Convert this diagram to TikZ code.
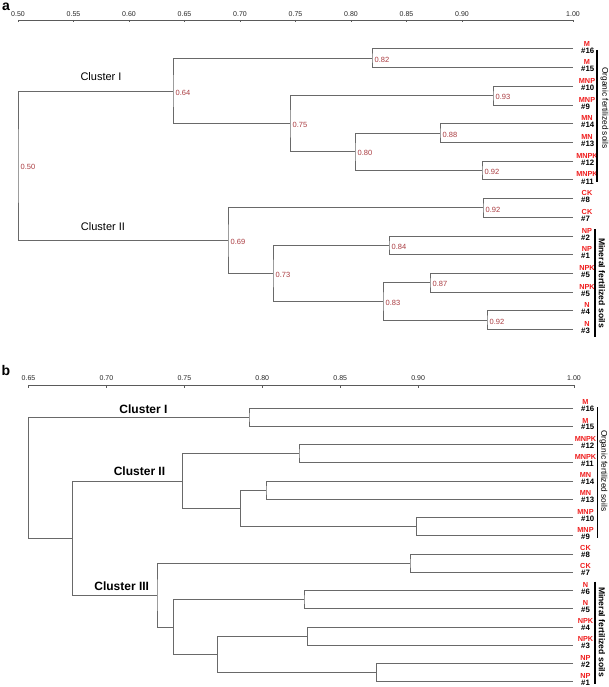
\documentclass[tikz,border=0pt]{standalone}
\usepackage{fontspec}
\setmainfont{Liberation Sans}
\usetikzlibrary{calc}
\definecolor{treegray}{RGB}{105,105,105}
\definecolor{valred}{RGB}{170,60,65}
\definecolor{leafred}{RGB}{240,30,30}
\definecolor{axgray}{RGB}{90,90,90}
\begin{document}
\begin{tikzpicture}[x=1pt,y=-1pt,
  br/.style={draw=treegray,line width=1pt},
  axisline/.style={draw=axgray,line width=0.8pt},
  vallab/.style={anchor=west,inner sep=0pt,font=\fontsize{7.5}{8}\selectfont,text=valred},
  redlab/.style={inner sep=0pt,font=\bfseries\fontsize{7.3}{7.3}\selectfont,text=leafred},
  blklab/.style={anchor=west,inner sep=0pt,font=\bfseries\fontsize{7.8}{7.8}\selectfont},
  ticklab/.style={inner sep=0pt,font=\fontsize{7}{7}\selectfont,text=black!85},
  clusa/.style={inner sep=0pt,font=\fontsize{11}{11}\selectfont},
  clusb/.style={inner sep=0pt,font=\bfseries\fontsize{12}{12}\selectfont},
  grpreg/.style={inner sep=0pt,rotate=-90,font=\fontsize{8.3}{8.3}\selectfont},
  grpbold/.style={inner sep=0pt,rotate=-90,font=\bfseries\fontsize{8.6}{8.6}\selectfont},
  grpbar/.style={draw=black,line width=1.1pt},
  panlab/.style={inner sep=0pt,font=\bfseries\fontsize{14}{14}\selectfont}
]
\fill[white] (0,0) rectangle (609,687);
\useasboundingbox (0,0) rectangle (609,687);

% ---------------- panel a ----------------
\node[panlab] (pa) at (6,7) {a};
\coordinate (axa0) at (18,20);
\coordinate (axa1) at (573,20);
\draw[axisline] (axa0) -- (axa1);
\foreach \v [count=\k] in {0.50,0.55,0.60,0.65,0.70,0.75,0.80,0.85,0.90,1.00}{
  \pgfmathsetmacro\xx{18+(\v-0.5)*1110}
  \draw[axisline] (\xx,20) -- (\xx,22.5);
  \node[ticklab] (ta\k) at (\xx,14) {\v};
}

\foreach \i/\r/\b in {0/M/16,1/M/15,2/MNP/10,3/MNP/9,4/MN/14,5/MN/13,6/MNPK/12,7/MNPK/11,8/CK/8,9/CK/7,10/NP/2,11/NP/1,12/NPK/5,13/NPK/5,14/N/4,15/N/3}{
  \coordinate (a\i) at (573,{49+18.7*\i});
  \node[redlab] (ar\i) at (587,{49+18.7*\i-5.5}) {\r};
  \node[blklab] (ab\i) at (581,{49+18.7*\i+1.5}) {\#\b};
}

\coordinate (n082) at (372,58.35);
\coordinate (n093) at (493,95.75);
\coordinate (n088) at (440,133.15);
\coordinate (n092a) at (482,170.55);
\coordinate (n080) at (355,151.85);
\coordinate (n075) at (290,123.8);
\coordinate (n064) at (173,91.08);
\coordinate (n092b) at (483,207.95);
\coordinate (n084) at (389,245.35);
\coordinate (n087) at (430,282.75);
\coordinate (n092c) at (487,320.15);
\coordinate (n083) at (383,301.45);
\coordinate (n073) at (273,273.4);
\coordinate (n069) at (228,240.7);
\coordinate (n050) at (18,165.9);

\draw[br] (a0) -| (n082) |- (a1);
\draw[br] (a2) -| (n093) |- (a3);
\draw[br] (a4) -| (n088) |- (a5);
\draw[br] (a6) -| (n092a) |- (a7);
\draw[br] (n088) -| (n080) |- (n092a);
\draw[br] (n093) -| (n075) |- (n080);
\draw[br] (n082) -| (n064) |- (n075);
\draw[br] (a8) -| (n092b) |- (a9);
\draw[br] (a10) -| (n084) |- (a11);
\draw[br] (a12) -| (n087) |- (a13);
\draw[br] (a14) -| (n092c) |- (a15);
\draw[br] (n087) -| (n083) |- (n092c);
\draw[br] (n084) -| (n073) |- (n083);
\draw[br] (n092b) -| (n069) |- (n073);
\draw[br] (n064) -| (n050) |- (n069);

\foreach \n/\t in {n082/0.82,n093/0.93,n088/0.88,n092a/0.92,n080/0.80,n075/0.75,n064/0.64,n092b/0.92,n084/0.84,n087/0.87,n092c/0.92,n083/0.83,n073/0.73,n069/0.69,n050/0.50}{
  \node[vallab] (v\n) at ($(\n)+(2.5,1.5)$) {\t};
}

\node[clusa] (cIa) at (101,76.7) {Cluster I};
\node[clusa] (cIIa) at (103,226.7) {Cluster II};

\coordinate (oga0) at (597,50);
\coordinate (oga1) at (597,182);
\draw[grpbar] (oga0) -- (oga1);
\node[grpreg] (ogat) at (604.5,108) {Organic fertilized soils};
\coordinate (mia0) at (595,229);
\coordinate (mia1) at (595,337);
\draw[grpbar] (mia0) -- (mia1);
\node[grpbold] (miat) at (602,283) {Mineral fertilized soils};

% ---------------- panel b ----------------
\node[panlab] (pb) at (6,370) {b};
\coordinate (axb0) at (28.5,385);
\coordinate (axb1) at (574,385);
\draw[axisline] (axb0) -- (axb1);
\foreach \v [count=\k] in {0.65,0.70,0.75,0.80,0.85,0.90,1.00}{
  \pgfmathsetmacro\xx{28.5+(\v-0.65)*1558.6}
  \draw[axisline] (\xx,385) -- (\xx,387.5);
  \node[ticklab] (tb\k) at (\xx,378.5) {\v};
}

\foreach \i/\r/\b in {0/M/16,1/M/15,2/MNPK/12,3/MNPK/11,4/MN/14,5/MN/13,6/MNP/10,7/MNP/9,8/CK/8,9/CK/7,10/N/6,11/N/5,12/NPK/4,13/NPK/3,14/NP/2,15/NP/1}{
  \coordinate (b\i) at (573,{408.3+18.23*\i});
  \node[redlab] (br\i) at (585.5,{408.3+18.23*\i-6}) {\r};
  \node[blklab] (bb\i) at (581,{408.3+18.23*\i+0.8}) {\#\b};
}

\coordinate (bnI) at (249,417.4);
\coordinate (bn1211) at (299,453.9);
\coordinate (bn1413) at (266,490.3);
\coordinate (bn109) at (416.7,526.8);
\coordinate (bnA) at (240.3,508.55);
\coordinate (bnII) at (182.3,481.2);
\coordinate (bn87) at (410,563.25);
\coordinate (bn65) at (304,599.7);
\coordinate (bn43) at (307.3,636.2);
\coordinate (bn21) at (376.7,672.6);
\coordinate (bnB) at (217.3,654.4);
\coordinate (bnC) at (173.7,627.05);
\coordinate (bnIII) at (157,595.15);
\coordinate (bnJ) at (72.3,538.2);
\coordinate (bnR) at (28.5,477.8);

\draw[br] (b0) -| (bnI) |- (b1);
\draw[br] (b2) -| (bn1211) |- (b3);
\draw[br] (b4) -| (bn1413) |- (b5);
\draw[br] (b6) -| (bn109) |- (b7);
\draw[br] (bn1413) -| (bnA) |- (bn109);
\draw[br] (bn1211) -| (bnII) |- (bnA);
\draw[br] (b8) -| (bn87) |- (b9);
\draw[br] (b10) -| (bn65) |- (b11);
\draw[br] (b12) -| (bn43) |- (b13);
\draw[br] (b14) -| (bn21) |- (b15);
\draw[br] (bn43) -| (bnB) |- (bn21);
\draw[br] (bn65) -| (bnC) |- (bnB);
\draw[br] (bn87) -| (bnIII) |- (bnC);
\draw[br] (bnII) -| (bnJ) |- (bnIII);
\draw[br] (bnI) -| (bnR) |- (bnJ);

\node[clusb] (cIb) at (143.5,409) {Cluster I};
\node[clusb] (cIIb) at (139.5,471.7) {Cluster II};
\node[clusb] (cIIIb) at (121.7,586.7) {Cluster III};

\coordinate (ogb0) at (597.3,407);
\coordinate (ogb1) at (597.3,538);
\draw[grpbar] (ogb0) -- (ogb1);
\node[grpreg] (ogbt) at (603.5,470.7) {Organic fertilized soils};
\coordinate (mib0) at (595,581.7);
\coordinate (mib1) at (595,684);
\draw[grpbar] (mib0) -- (mib1);
\node[grpbold] (mibt) at (602,632) {Mineral fertilized soils};
\end{tikzpicture}
\end{document}
